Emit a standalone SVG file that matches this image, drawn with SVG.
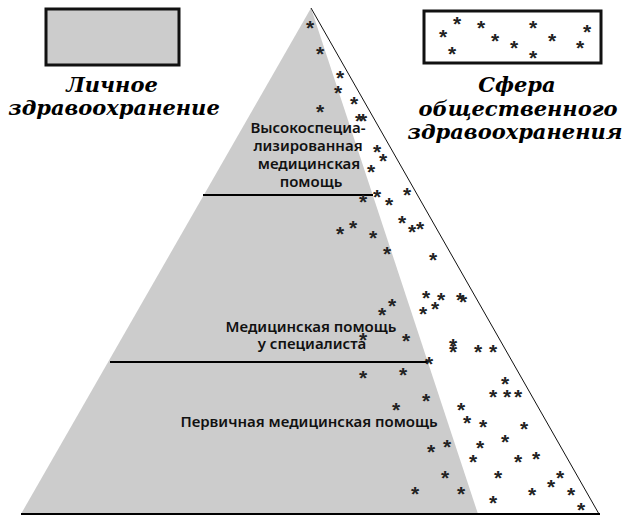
<svg xmlns="http://www.w3.org/2000/svg" width="628" height="516" viewBox="0 0 628 516">
<style>
.lbl{font-family:"DejaVu Serif","Liberation Serif",serif;font-style:italic;font-weight:bold;font-size:21px;fill:#000;text-anchor:middle}
.lvl{font-family:"Noto Sans","DejaVu Sans",sans-serif;font-weight:600;font-size:15px;fill:#111;text-anchor:middle}
.a{font-family:"Liberation Sans",Arial,sans-serif;font-weight:bold;font-size:21px;fill:#222;text-anchor:middle}
.rule{stroke:#000;stroke-width:2.2}
</style>
<rect width="628" height="516" fill="#fff"/>
<g id="legend-personal">
<rect x="46" y="9" width="133" height="56" fill="#cccccc" stroke="#111" stroke-width="3"/>
<text class="lbl" x="112" y="92">Личное</text>
<text class="lbl" x="114" y="115">здравоохранение</text>
</g>
<g id="legend-public">
<rect x="424" y="11" width="177" height="52" fill="#fff" stroke="#111" stroke-width="3"/>
<g transform="translate(0,12)">
<text class="a" x="457" y="19">*</text><text class="a" x="443" y="32">*</text><text class="a" x="481" y="23">*</text><text class="a" x="495" y="36">*</text><text class="a" x="514" y="43">*</text><text class="a" x="533" y="23">*</text><text class="a" x="552" y="36">*</text><text class="a" x="533" y="53">*</text><text class="a" x="452" y="49">*</text><text class="a" x="587" y="27">*</text><text class="a" x="580" y="43">*</text>
</g>
<text class="lbl" x="517" y="92">Сфера</text>
<text class="lbl" x="518" y="116">общественного</text>
<text class="lbl" x="515" y="139">здравоохранения</text>
</g>
<g id="pyramid">
<polygon points="311,8 21,514 478,514" fill="#cccccc"/>
<line x1="311" y1="8" x2="599" y2="514" stroke="#111" stroke-width="1"/>
</g>
<g id="connectors">
<line class="rule" x1="203" y1="195" x2="373" y2="195"/>
<line class="rule" x1="110" y1="362" x2="428" y2="362"/>
<line class="rule" x1="21" y1="514" x2="600" y2="514"/>
</g>
<g id="level-high">
<text class="lvl" x="308" y="133">Высокоспециа-</text>
<text class="lvl" x="308" y="151">лизированная</text>
<text class="lvl" x="309" y="169">медицинская</text>
<text class="lvl" x="311" y="187">помощь</text>
</g>
<g id="level-specialist">
<text class="lvl" x="311" y="332">Медицинская помощь</text>
<text class="lvl" x="312" y="349">у специалиста</text>
</g>
<g id="level-primary">
<text class="lvl" x="309" y="427">Первичная медицинская помощь</text>
</g>
<g id="public-marks" transform="translate(0,12)">
<text class="a" x="310" y="23">*</text><text class="a" x="320" y="49">*</text><text class="a" x="340" y="73">*</text><text class="a" x="338" y="88">*</text><text class="a" x="354" y="99">*</text><text class="a" x="320" y="107">*</text><text class="a" x="359" y="116">*</text><text class="a" x="363" y="116">*</text><text class="a" x="377" y="147">*</text><text class="a" x="383" y="156">*</text><text class="a" x="371" y="167">*</text><text class="a" x="407" y="190">*</text><text class="a" x="377" y="192">*</text><text class="a" x="363" y="197">*</text><text class="a" x="389" y="200">*</text><text class="a" x="402" y="218">*</text><text class="a" x="412" y="227">*</text><text class="a" x="420" y="224">*</text><text class="a" x="340" y="229">*</text><text class="a" x="353" y="223">*</text><text class="a" x="373" y="233">*</text><text class="a" x="387" y="249">*</text><text class="a" x="433" y="255">*</text>
<text class="a" x="426" y="293">*</text><text class="a" x="441" y="295">*</text><text class="a" x="460" y="295">*</text><text class="a" x="463" y="297">*</text><text class="a" x="392" y="301">*</text><text class="a" x="382" y="310">*</text><text class="a" x="423" y="309">*</text><text class="a" x="435" y="304">*</text>
<text class="a" x="363" y="335">*</text><text class="a" x="406" y="336">*</text><text class="a" x="453" y="341">*</text><text class="a" x="453" y="347">*</text><text class="a" x="478" y="347">*</text><text class="a" x="493" y="347">*</text><text class="a" x="429" y="359">*</text>
<text class="a" x="363" y="373">*</text><text class="a" x="403" y="370">*</text><text class="a" x="505" y="379">*</text><text class="a" x="493" y="392">*</text><text class="a" x="507" y="392">*</text><text class="a" x="518" y="392">*</text><text class="a" x="426" y="396">*</text><text class="a" x="396" y="405">*</text><text class="a" x="461" y="405">*</text><text class="a" x="467" y="418">*</text><text class="a" x="483" y="422">*</text><text class="a" x="524" y="424">*</text><text class="a" x="505" y="437">*</text><text class="a" x="431" y="447">*</text><text class="a" x="447" y="442">*</text><text class="a" x="480" y="443">*</text><text class="a" x="473" y="457">*</text><text class="a" x="518" y="457">*</text><text class="a" x="536" y="454">*</text><text class="a" x="445" y="473">*</text><text class="a" x="498" y="473">*</text><text class="a" x="560" y="473">*</text><text class="a" x="551" y="482">*</text><text class="a" x="415" y="489">*</text><text class="a" x="461" y="489">*</text><text class="a" x="493" y="498">*</text><text class="a" x="532" y="490">*</text><text class="a" x="571" y="490">*</text><text class="a" x="581" y="505">*</text>
</g>
</svg>
